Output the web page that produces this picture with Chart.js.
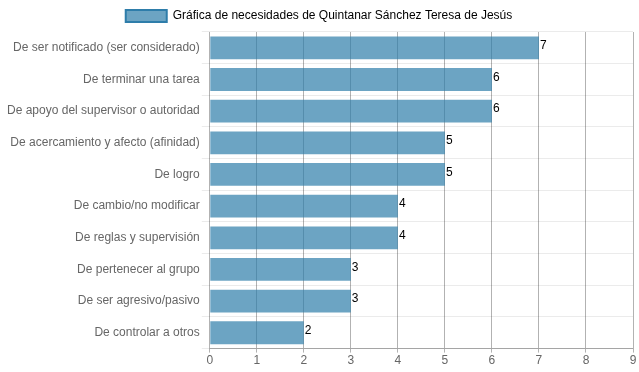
<!DOCTYPE html>
<html>
<head>
<meta charset="utf-8">
<script src="https://cdn.jsdelivr.net/npm/chart.js@4/dist/chart.umd.min.js"></script>
<style>
  html, body { margin: 0; padding: 0; background: #fff; }
  #wrap { width: 639px; height: 372px; position: relative; }
</style>
</head>
<body>
<div id="wrap"><canvas id="chart"></canvas></div>
<script>
// --- Data ---
const categories = [
    'De ser notificado (ser considerado)',
    'De terminar una tarea',
    'De apoyo del supervisor o autoridad',
    'De acercamiento y afecto (afinidad)',
    'De logro',
    'De cambio/no modificar',
    'De reglas y supervisión',
    'De pertenecer al grupo',
    'De ser agresivo/pasivo',
    'De controlar a otros'
];
const values = [7, 6, 6, 5, 5, 4, 4, 3, 3, 2];
const seriesLabel = 'Gráfica de necesidades de Quintanar Sánchez Teresa de Jesús';
const xTicks = [0, 1, 2, 3, 4, 5, 6, 7, 8, 9];

Chart.defaults.font.family = 'Arial, "Liberation Sans", Helvetica, sans-serif';
Chart.defaults.font.size = 12;
Chart.defaults.color = '#666';

// --- Value labels at the bar ends ---
const valueLabels = {
    id: 'valueLabels',
    afterDatasetsDraw(chart) {
        const ctx = chart.ctx;
        const meta = chart.getDatasetMeta(0);
        ctx.save();
        ctx.fillStyle = '#000';
        ctx.font = '12px Arial, "Liberation Sans", sans-serif';
        ctx.textAlign = 'left';
        ctx.textBaseline = 'middle';
        meta.data.forEach((bar, i) => {
            ctx.fillText(values[i], bar.x + 1, bar.y - 2);
        });
        ctx.restore();
    }
};

const ctx = document.getElementById('chart').getContext('2d');
new Chart(ctx, {
    type: 'bar',
    data: {
        labels: categories,
        datasets: [{
            label: seriesLabel,
            data: values,
            backgroundColor: 'rgba(46, 125, 170, 0.7)',
            borderColor: 'rgba(46, 125, 170, 1)',
            borderWidth: 0
        }]
    },
    options: {
        indexAxis: 'y',
        responsive: true,
        maintainAspectRatio: false,
        animation: false,
        layout: { padding: { left: 5, right: 6, top: 0, bottom: 3 } },
        scales: {
            x: {
                min: 0,
                max: 9,
                afterBuildTicks: axis => { axis.ticks = xTicks.map(v => ({ value: v })); },
                grid: { color: 'rgba(0,0,0,0.3)', tickLength: 4 },
                border: { color: 'rgba(0,0,0,0.3)' },
                ticks: { color: '#666', padding: 1 }
            },
            y: {
                grid: { color: 'rgba(0,0,0,0.08)', offset: true, tickLength: 8 },
                border: { display: false },
                ticks: { color: '#666', padding: 2 }
            }
        },
        plugins: {
            legend: {
                labels: {
                    boxWidth: 41,
                    boxHeight: 12,
                    padding: 10,
                    color: '#666',
                    generateLabels: chart => [{
                        text: seriesLabel,
                        fillStyle: 'rgba(46, 125, 170, 0.7)',
                        strokeStyle: 'rgba(46, 125, 170, 1)',
                        lineWidth: 2,
                        datasetIndex: 0
                    }]
                }
            },
            tooltip: { enabled: false }
        }
    },
    plugins: [valueLabels]
});
</script>
</body>
</html>
